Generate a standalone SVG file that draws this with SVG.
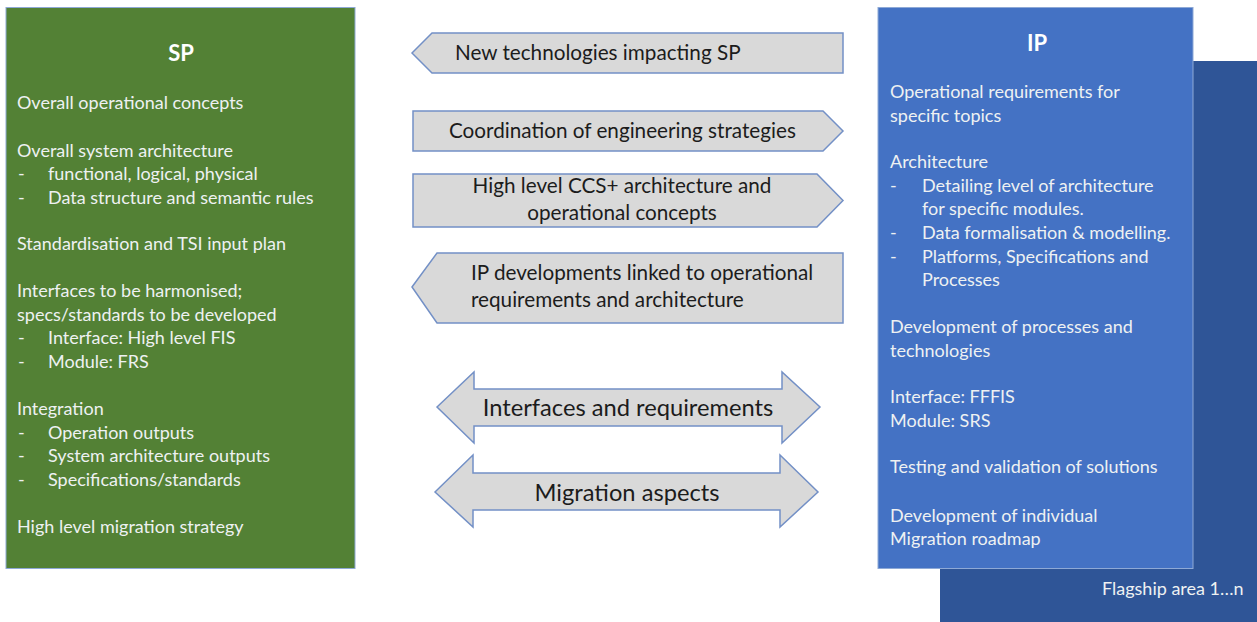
<svg xmlns="http://www.w3.org/2000/svg" width="1257" height="622" viewBox="0 0 1257 622">
<style>
  .bt { font-family: Lato, "Open Sans", "Liberation Sans", sans-serif; font-size: 18px; fill: #eef1f2; }
  .tt { font-family: Lato, "Open Sans", "Liberation Sans", sans-serif; font-size: 22px; font-weight: bold; fill: #ffffff; text-anchor: middle; }
  .at { font-family: Lato, "Open Sans", "Liberation Sans", sans-serif; font-size: 20.7px; fill: #1c1c1c; }
  .dt { font-family: Lato, "Open Sans", "Liberation Sans", sans-serif; font-size: 23.7px; fill: #1c1c1c; text-anchor: middle; }
  .arr { fill: #d9d9d9; stroke: #7390c6; stroke-width: 1.5; stroke-linejoin: miter; }
  .box { stroke: #8ea9d6; stroke-width: 1; }
</style>
<rect width="1257" height="622" fill="#ffffff"/>

<g id="sp">
  <rect class="box" x="6" y="7.5" width="349" height="561" fill="#538135"/>
  <text class="tt" x="181" y="61">SP</text>
  <text class="bt" x="17" y="109">Overall operational concepts</text>
  <text class="bt" x="17" y="157">Overall system architecture</text>
  <text class="bt" x="18" y="180">-</text><text class="bt" x="48" y="180">functional, logical, physical</text>
  <text class="bt" x="18" y="204">-</text><text class="bt" x="48" y="204">Data structure and semantic rules</text>
  <text class="bt" x="17" y="250">Standardisation and TSI input plan</text>
  <text class="bt" x="17" y="297">Interfaces to be harmonised;</text>
  <text class="bt" x="17" y="321">specs/standards to be developed</text>
  <text class="bt" x="18" y="344">-</text><text class="bt" x="48" y="344">Interface: High level FIS</text>
  <text class="bt" x="18" y="368">-</text><text class="bt" x="48" y="368">Module: FRS</text>
  <text class="bt" x="17" y="415">Integration</text>
  <text class="bt" x="18" y="439">-</text><text class="bt" x="48" y="439">Operation outputs</text>
  <text class="bt" x="18" y="462">-</text><text class="bt" x="48" y="462">System architecture outputs</text>
  <text class="bt" x="18" y="486">-</text><text class="bt" x="48" y="486">Specifications/standards</text>
  <text class="bt" x="17" y="533">High level migration strategy</text>
</g>

<g id="flagship">
  <rect x="940" y="61" width="317" height="561" fill="#2f5597"/>
  <text class="bt" x="1102" y="595">Flagship area 1…n</text>
</g>

<g id="ip">
  <rect class="box" x="878" y="7.5" width="315" height="561" fill="#4472c4"/>
  <text class="tt" x="1037" y="51">IP</text>
  <text class="bt" x="890" y="98">Operational requirements for</text>
  <text class="bt" x="890" y="122">specific topics</text>
  <text class="bt" x="890" y="168">Architecture</text>
  <text class="bt" x="890" y="192">-</text><text class="bt" x="922" y="192">Detailing level of architecture</text>
  <text class="bt" x="922" y="215">for specific modules.</text>
  <text class="bt" x="890" y="239">-</text><text class="bt" x="922" y="239">Data formalisation &amp; modelling.</text>
  <text class="bt" x="890" y="263">-</text><text class="bt" x="922" y="263">Platforms, Specifications and</text>
  <text class="bt" x="922" y="286">Processes</text>
  <text class="bt" x="890" y="333">Development of processes and</text>
  <text class="bt" x="890" y="357">technologies</text>
  <text class="bt" x="890" y="403">Interface: FFFIS</text>
  <text class="bt" x="890" y="427">Module: SRS</text>
  <text class="bt" x="890" y="473">Testing and validation of solutions</text>
  <text class="bt" x="890" y="522">Development of individual</text>
  <text class="bt" x="890" y="545">Migration roadmap</text>
</g>

<g id="connectors">
  <g id="arrow-new-tech">
    <polygon class="arr" points="412,53 432,33 843,33 843,73 432,73"/>
    <text class="at" x="455" y="60">New technologies impacting SP</text>
  </g>
  <g id="arrow-coordination">
    <polygon class="arr" points="413,111 823,111 843,131 823,151 413,151"/>
    <text class="at" x="449" y="138">Coordination of engineering strategies</text>
  </g>
  <g id="arrow-ccs">
    <polygon class="arr" points="413,174 817,174 843,200.5 817,227 413,227"/>
    <text class="at" x="622" y="193" text-anchor="middle">High level CCS+ architecture and</text>
    <text class="at" x="622" y="220" text-anchor="middle">operational concepts</text>
  </g>
  <g id="arrow-ip-dev">
    <polygon class="arr" points="412,287 437,253 843,253 843,323 437,323"/>
    <text class="at" x="471" y="280">IP developments linked to operational</text>
    <text class="at" x="471" y="307">requirements and architecture</text>
  </g>
  <g id="arrow-interfaces">
    <polygon class="arr" points="437,407 474,372 474,389 782,389 782,372 820,407 782,443 782,426 474,426 474,443"/>
    <text class="dt" x="628" y="416">Interfaces and requirements</text>
  </g>
  <g id="arrow-migration">
    <polygon class="arr" points="435,492 473,455 473,473 780,473 780,455 818,492 780,527 780,510 473,510 473,527"/>
    <text class="dt" x="627" y="501">Migration aspects</text>
  </g>
</g>
</svg>
